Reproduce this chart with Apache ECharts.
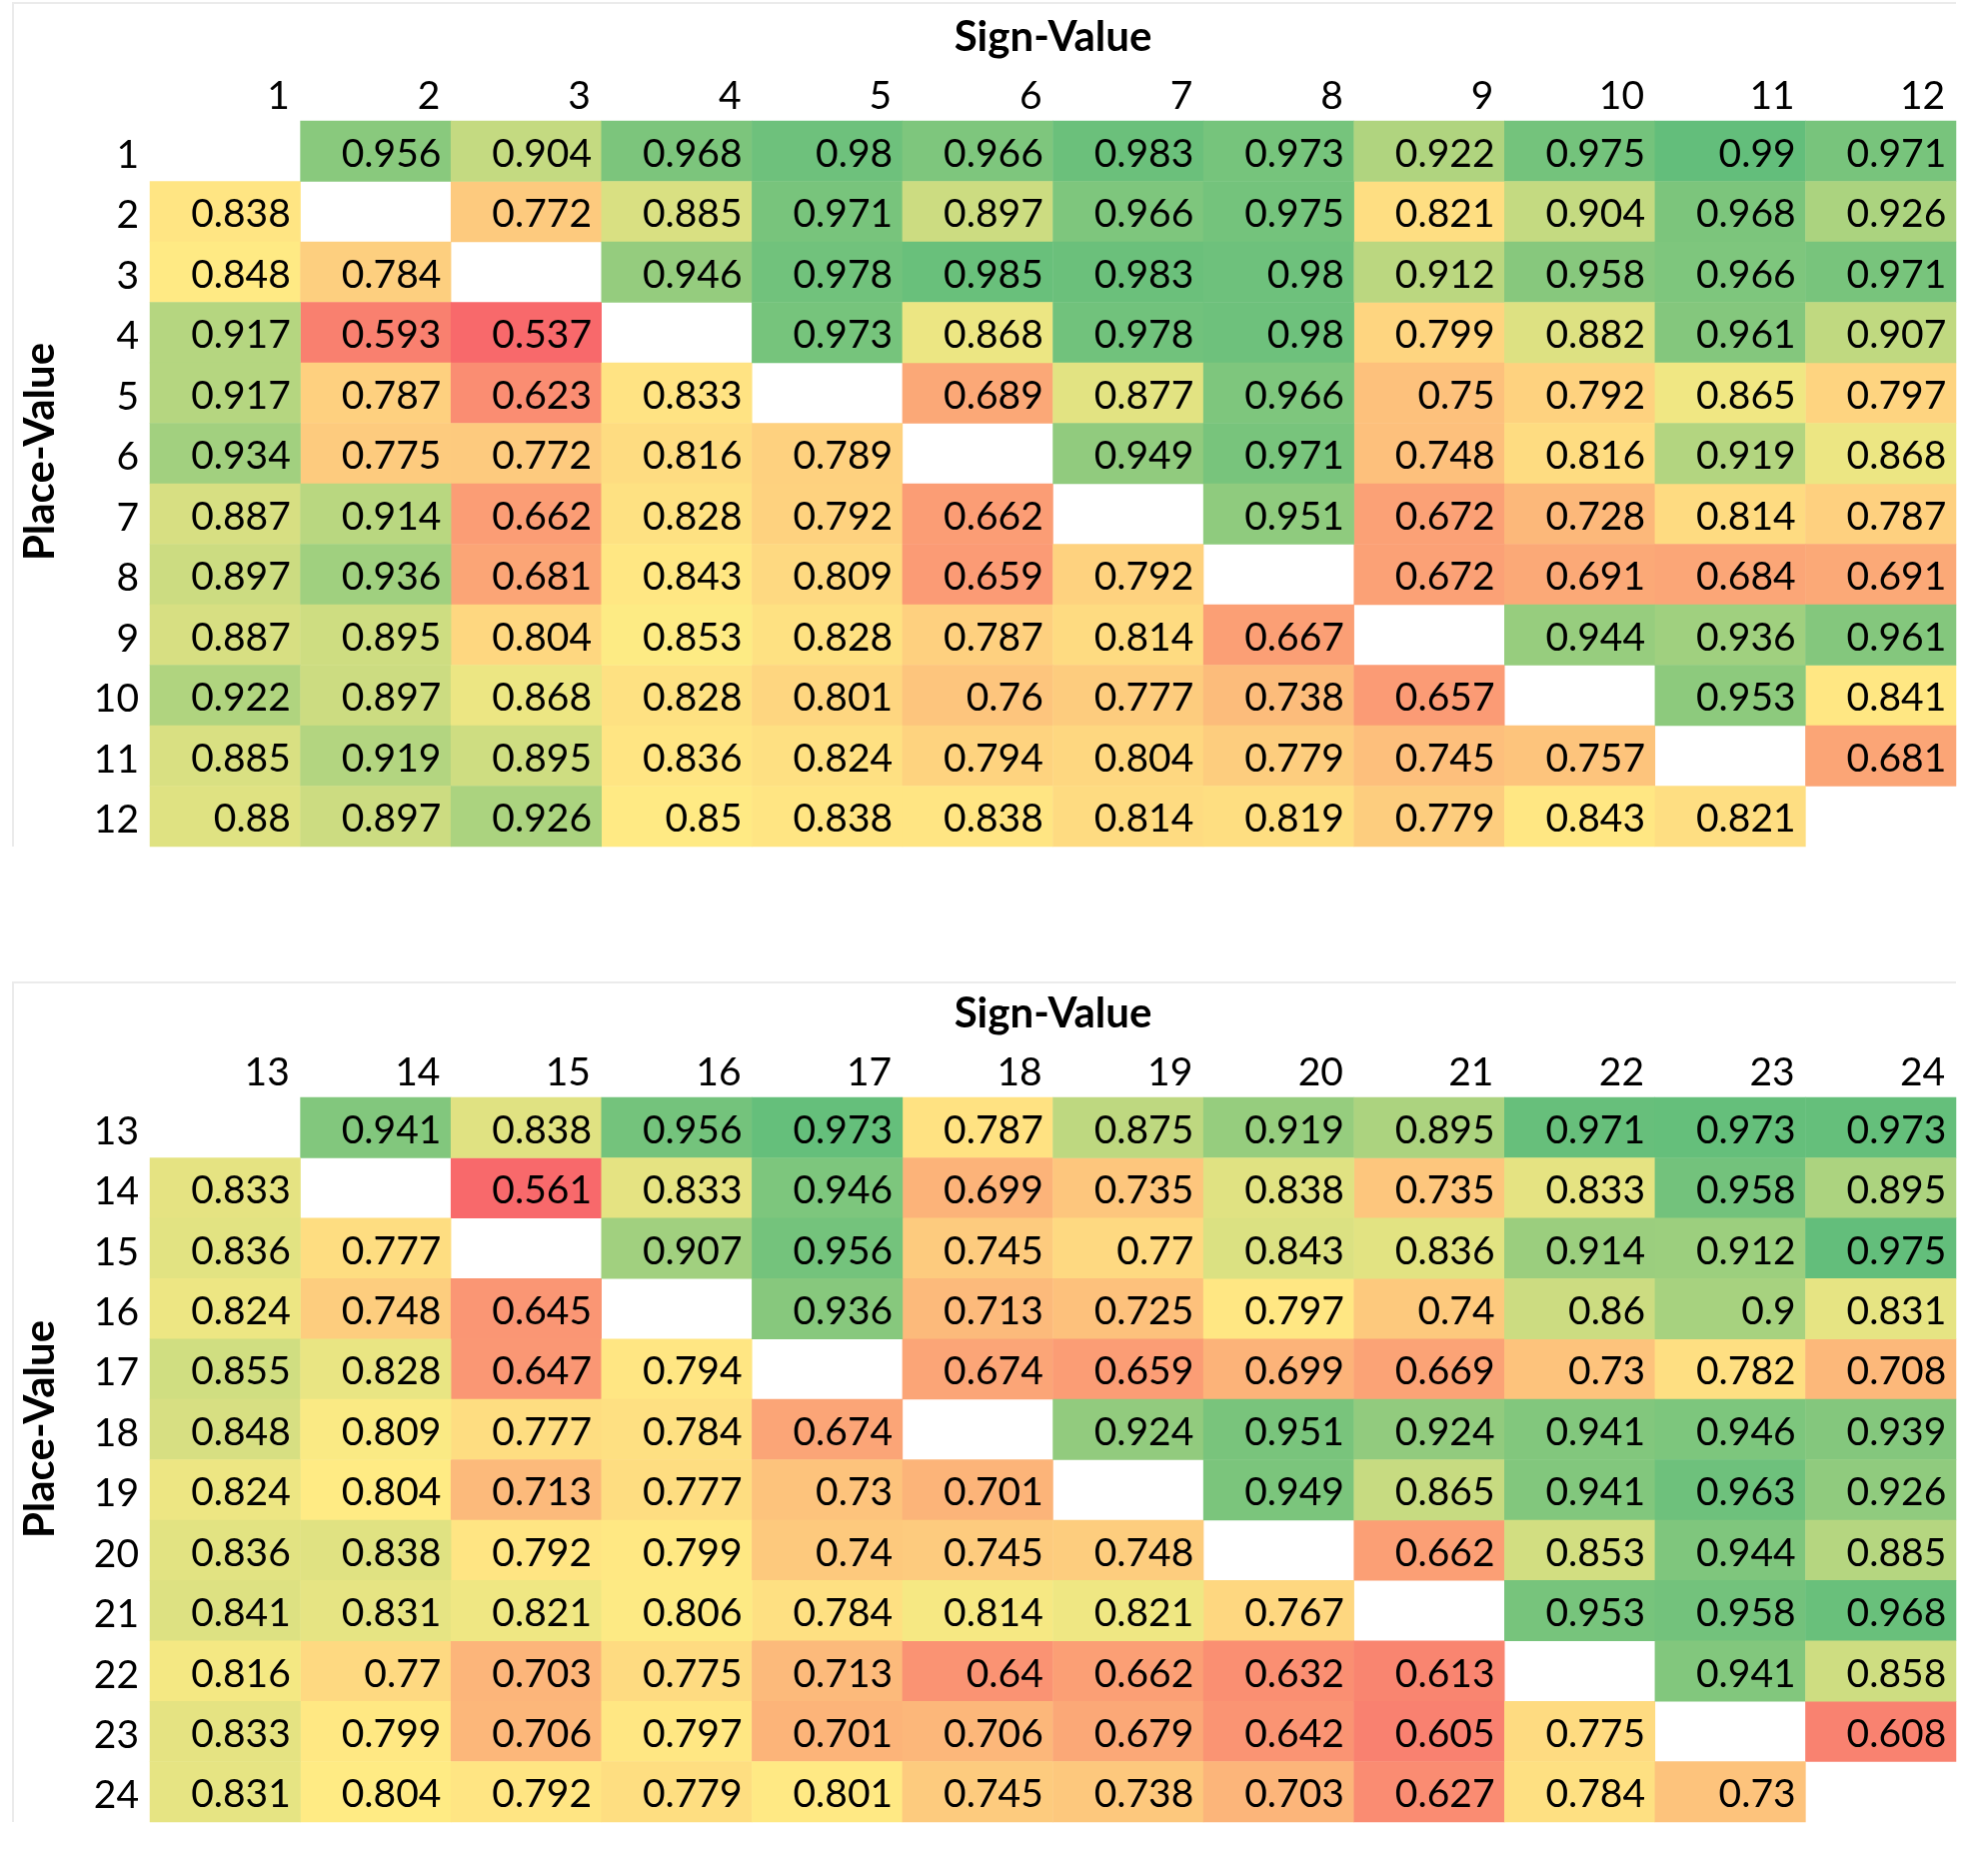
<!DOCTYPE html>
<html>
<head>
<meta charset="utf-8">
<title>Sign-Value vs Place-Value</title>
<script src="https://cdn.jsdelivr.net/npm/echarts@6/dist/echarts.min.js"></script>
<style>
  html, body { margin: 0; padding: 0; background: #fff; }
  #chart { width: 1989px; height: 1854px; }
</style>
</head>
<body>
<div id="chart"></div>
<script>
// Column (Sign-Value) and row (Place-Value) labels
const topCols = ['1', '2', '3', '4', '5', '6', '7', '8', '9', '10', '11', '12'];
const topRows = ['1', '2', '3', '4', '5', '6', '7', '8', '9', '10', '11', '12'];
const bottomCols = ['13', '14', '15', '16', '17', '18', '19', '20', '21', '22', '23', '24'];
const bottomRows = ['13', '14', '15', '16', '17', '18', '19', '20', '21', '22', '23', '24'];

// Values, one array per row; null on the diagonal
const topValues = [
    [null, 0.956, 0.904, 0.968, 0.98, 0.966, 0.983, 0.973, 0.922, 0.975, 0.99, 0.971],
    [0.838, null, 0.772, 0.885, 0.971, 0.897, 0.966, 0.975, 0.821, 0.904, 0.968, 0.926],
    [0.848, 0.784, null, 0.946, 0.978, 0.985, 0.983, 0.98, 0.912, 0.958, 0.966, 0.971],
    [0.917, 0.593, 0.537, null, 0.973, 0.868, 0.978, 0.98, 0.799, 0.882, 0.961, 0.907],
    [0.917, 0.787, 0.623, 0.833, null, 0.689, 0.877, 0.966, 0.75, 0.792, 0.865, 0.797],
    [0.934, 0.775, 0.772, 0.816, 0.789, null, 0.949, 0.971, 0.748, 0.816, 0.919, 0.868],
    [0.887, 0.914, 0.662, 0.828, 0.792, 0.662, null, 0.951, 0.672, 0.728, 0.814, 0.787],
    [0.897, 0.936, 0.681, 0.843, 0.809, 0.659, 0.792, null, 0.672, 0.691, 0.684, 0.691],
    [0.887, 0.895, 0.804, 0.853, 0.828, 0.787, 0.814, 0.667, null, 0.944, 0.936, 0.961],
    [0.922, 0.897, 0.868, 0.828, 0.801, 0.76, 0.777, 0.738, 0.657, null, 0.953, 0.841],
    [0.885, 0.919, 0.895, 0.836, 0.824, 0.794, 0.804, 0.779, 0.745, 0.757, null, 0.681],
    [0.88, 0.897, 0.926, 0.85, 0.838, 0.838, 0.814, 0.819, 0.779, 0.843, 0.821, null]
];
const bottomValues = [
    [null, 0.941, 0.838, 0.956, 0.973, 0.787, 0.875, 0.919, 0.895, 0.971, 0.973, 0.973],
    [0.833, null, 0.561, 0.833, 0.946, 0.699, 0.735, 0.838, 0.735, 0.833, 0.958, 0.895],
    [0.836, 0.777, null, 0.907, 0.956, 0.745, 0.77, 0.843, 0.836, 0.914, 0.912, 0.975],
    [0.824, 0.748, 0.645, null, 0.936, 0.713, 0.725, 0.797, 0.74, 0.86, 0.9, 0.831],
    [0.855, 0.828, 0.647, 0.794, null, 0.674, 0.659, 0.699, 0.669, 0.73, 0.782, 0.708],
    [0.848, 0.809, 0.777, 0.784, 0.674, null, 0.924, 0.951, 0.924, 0.941, 0.946, 0.939],
    [0.824, 0.804, 0.713, 0.777, 0.73, 0.701, null, 0.949, 0.865, 0.941, 0.963, 0.926],
    [0.836, 0.838, 0.792, 0.799, 0.74, 0.745, 0.748, null, 0.662, 0.853, 0.944, 0.885],
    [0.841, 0.831, 0.821, 0.806, 0.784, 0.814, 0.821, 0.767, null, 0.953, 0.958, 0.968],
    [0.816, 0.77, 0.703, 0.775, 0.713, 0.64, 0.662, 0.632, 0.613, null, 0.941, 0.858],
    [0.833, 0.799, 0.706, 0.797, 0.701, 0.706, 0.679, 0.642, 0.605, 0.775, null, 0.608],
    [0.831, 0.804, 0.792, 0.779, 0.801, 0.745, 0.738, 0.703, 0.627, 0.784, 0.73, null]
];

const RED = '#F8696B';
const YELLOW = '#FFEB84';
const GREEN = '#63BE7B';
const FONT = 'Lato';
const cellFont = 39;
const titleFont = 42;

// Excel-like 3 colour scale: min -> red, 50th percentile -> yellow, max -> green
function panelScale(values) {
    const flat = values.flat().filter(v => v !== null).sort((a, b) => a - b);
    const n = flat.length;
    const mid = n % 2 ? flat[(n - 1) / 2] : (flat[n / 2 - 1] + flat[n / 2]) / 2;
    return {min: flat[0], mid, max: flat[n - 1]};
}

function splitCells(values, mid) {
    const low = [];
    const high = [];
    values.forEach((row, r) => row.forEach((v, c) => {
        if (v === null) return;
        (v <= mid ? low : high).push([c, r, v]);
    }));
    return {low, high};
}

const topScale = panelScale(topValues);
const bottomScale = panelScale(bottomValues);
const topCells = splitCells(topValues, topScale.mid);
const bottomCells = splitCells(bottomValues, bottomScale.mid);

const textStyle = {fontFamily: FONT, fontSize: cellFont, color: '#000'};

function xAxisFor(gridIndex, cols) {
    return {
        type: 'category',
        gridIndex,
        data: cols,
        position: 'top',
        name: 'Sign-Value',
        nameLocation: 'middle',
        nameGap: 63,
        nameTextStyle: {fontFamily: FONT, fontSize: titleFont, fontWeight: 'bold', color: '#000'},
        axisLine: {show: false},
        axisTick: {show: false},
        splitLine: {show: false},
        axisLabel: {
            interval: 0,
            margin: 5,
            formatter: v => '{a|' + v + '}',
            rich: {a: Object.assign({width: 129, align: 'right'}, textStyle)}
        }
    };
}

function yAxisFor(gridIndex, rows) {
    return {
        type: 'category',
        gridIndex,
        data: rows,
        inverse: true,
        axisLine: {show: false},
        axisTick: {show: false},
        splitLine: {show: false},
        axisLabel: {
            interval: 0,
            margin: 11,
            formatter: v => '{a|' + v + '}',
            rich: {a: Object.assign({padding: [8, 0, 0, 0]}, textStyle)}
        }
    };
}

function heatSeries(idx, data) {
    return {
        type: 'heatmap',
        xAxisIndex: idx,
        yAxisIndex: idx,
        data,
        itemStyle: {borderWidth: 0},
        emphasis: {disabled: true},
        label: Object.assign({
            show: true,
            position: 'insideRight',
            distance: 10,
            offset: [0, 3],
            formatter: p => String(p.value[2])
        }, textStyle)
    };
}

function scaleMap(seriesIndex, min, max, colors) {
    return {type: 'continuous', show: false, seriesIndex, dimension: 2, min, max, inRange: {color: colors}};
}

function yTitle(cy) {
    return {
        type: 'text',
        x: 40,
        y: cy,
        rotation: Math.PI / 2,
        style: {
            text: 'Place-Value',
            fontFamily: FONT, fontSize: titleFont, fontWeight: 'bold', fill: '#000',
            align: 'center', verticalAlign: 'middle'
        }
    };
}

// faint chart-area frame, only the top and left edges show in the original
function frame(top, bottom) {
    return {
        type: 'polyline', z: -1,
        shape: {points: [[13, bottom], [13, top], [1957, top]]},
        style: {fill: 'none', stroke: '#ebebeb', lineWidth: 2}
    };
}

const chart = echarts.init(document.getElementById('chart'), null, {renderer: 'canvas'});
chart.setOption({
    backgroundColor: '#fff',
    animation: false,
    grid: [
        {left: 150, right: 32, top: 121, height: 726},
        {left: 150, right: 32, top: 1098, height: 725}
    ],
    xAxis: [xAxisFor(0, topCols), xAxisFor(1, bottomCols)],
    yAxis: [yAxisFor(0, topRows), yAxisFor(1, bottomRows)],
    visualMap: [
        scaleMap(0, topScale.min, topScale.mid, [RED, YELLOW]),
        scaleMap(1, topScale.mid, topScale.max, [YELLOW, GREEN]),
        scaleMap(2, bottomScale.min, bottomScale.mid, [RED, YELLOW]),
        scaleMap(3, bottomScale.mid, bottomScale.max, [YELLOW, GREEN])
    ],
    graphic: [
        frame(3, 847),
        frame(983, 1823),
        yTitle(452),
        yTitle(1430)
    ],
    series: [
        heatSeries(0, topCells.low),
        heatSeries(0, topCells.high),
        heatSeries(1, bottomCells.low),
        heatSeries(1, bottomCells.high)
    ]
});
</script>
</body>
</html>
